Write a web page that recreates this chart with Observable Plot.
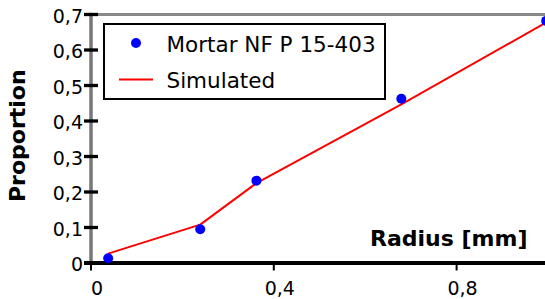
<!DOCTYPE html>
<html><head><meta charset="utf-8">
<script src="https://cdn.jsdelivr.net/npm/d3@7"></script>
<script src="https://cdn.jsdelivr.net/npm/@observablehq/plot@0.6"></script>
<style>
html,body{margin:0;padding:0;background:#fff;}
#wrap{position:relative;width:545px;height:299px;overflow:hidden;}
#legend{position:absolute;left:103px;top:23px;width:279px;height:73px;border:2px solid #000;background:#fff;}
#legend svg{display:block;}
</style></head><body><div id="wrap"><div id="chart"></div><div id="legend"></div></div>
<script>
// Measured series
const radiusMeasured = [0.0376, 0.239, 0.362, 0.679, 0.996];
const proportionMeasured = [0.0135, 0.095, 0.232, 0.4625, 0.682];
// Simulated series
const radiusSimulated = [0.039, 0.239, 0.362, 0.679, 0.996];
const proportionSimulated = [0.027, 0.108, 0.225, 0.4465, 0.6775];
// Ticks and labels
const xTicks = [0, 0.4, 0.8];
const yTicks = [0, 0.1, 0.2, 0.3, 0.4, 0.5, 0.6, 0.7];
const seriesNames = ["Mortar NF P 15-403", "Simulated"];
const xLabel = "Radius [mm]";
const yLabel = "Proportion";

const measured = radiusMeasured.map((r, i) => ({r, p: proportionMeasured[i]}));
const simulated = radiusSimulated.map((r, i) => ({r, p: proportionSimulated[i]}));
const fmt = d => String(d).replace(".", ",");

const chart = Plot.plot({
  width: 545, height: 299,
  marginLeft: 90.5, marginRight: 0, marginTop: 14, marginBottom: 36.5,
  style: {fontFamily: "DejaVu Sans", fontSize: "19px", color: "#000", background: "#fff", overflow: "visible"},
  x: {domain: [0, 1], range: [90.5, 547.5]},
  y: {domain: [0, 0.7], range: [262.5, 14]},
  marks: [
    Plot.frame({anchor: "top", stroke: "#888", strokeWidth: 3}),
    Plot.frame({anchor: "left", stroke: "#777", strokeWidth: 3.5}),
    Plot.axisY(yTicks, {tickSize: 14, dx: 7.5, stroke: "#000", strokeWidth: 3.3, fill: "none", label: null}),
    Plot.axisY(yTicks, {tickSize: 0, tickPadding: 8, dy: 2, tickFormat: fmt, fill: "#000", fontSize: 19, label: null}),
    Plot.ruleY([0], {stroke: "#000", strokeWidth: 4, insetLeft: -6.5}),
    Plot.axisX(xTicks, {tickSize: 8, stroke: "#000", strokeWidth: 2, fill: "none", label: null}),
    Plot.axisX(xTicks, {tickSize: 0, tickPadding: 18, dx: 6, tickFormat: fmt, fill: "#000", fontSize: 19, label: null}),
    Plot.line(simulated, {x: "r", y: "p", stroke: "#ff0000", strokeWidth: 2}),
    Plot.dot(measured, {x: "r", y: "p", r: 5, fill: "#0000ff", stroke: "none"}),
    Plot.text([yLabel], {frameAnchor: "left", textAnchor: "middle", rotate: -90, dx: -73.5, dy: -3, fontWeight: "bold", fontSize: 22, fill: "#000"}),
    Plot.text([xLabel], {frameAnchor: "bottom-right", textAnchor: "end", lineAnchor: "bottom", dx: -18, dy: -17.5, fontWeight: "bold", fontSize: 22, fill: "#000"})
  ]
});
document.getElementById("chart").appendChild(chart);

// Legend
const ns = "http://www.w3.org/2000/svg";
const lsvg = document.createElementNS(ns, "svg");
lsvg.setAttribute("width", 279); lsvg.setAttribute("height", 73);
lsvg.style.fontFamily = "DejaVu Sans"; lsvg.style.fontSize = "21.5px";
const dot = document.createElementNS(ns, "circle");
dot.setAttribute("cx", 31); dot.setAttribute("cy", 18); dot.setAttribute("r", 5); dot.setAttribute("fill", "#0000ff");
lsvg.appendChild(dot);
const ln = document.createElementNS(ns, "line");
ln.setAttribute("x1", 14); ln.setAttribute("x2", 48); ln.setAttribute("y1", 54.5); ln.setAttribute("y2", 54.5);
ln.setAttribute("stroke", "#ff0000"); ln.setAttribute("stroke-width", 2);
lsvg.appendChild(ln);
seriesNames.forEach((name, i) => {
  const t = document.createElementNS(ns, "text");
  t.setAttribute("x", 61.5); t.setAttribute("y", i === 0 ? 26.7 : 63.3);
  t.setAttribute("fill", "#000");
  t.textContent = name;
  lsvg.appendChild(t);
});
document.getElementById("legend").appendChild(lsvg);
</script>
</body></html>
